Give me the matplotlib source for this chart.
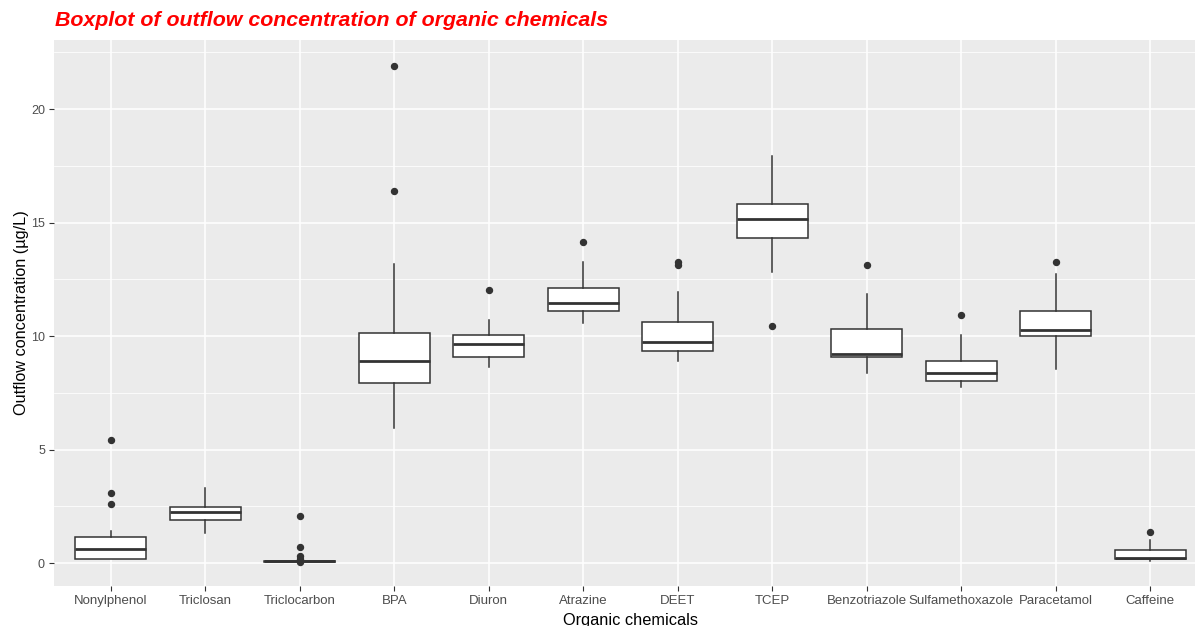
import matplotlib
matplotlib.use("Agg")
import matplotlib.pyplot as plt
from matplotlib.ticker import MultipleLocator

chemicals = ["Nonylphenol", "Triclosan", "Triclocarbon", "BPA", "Diuron", "Atrazine",
             "DEET", "TCEP", "Benzotriazole", "Sulfamethoxazole", "Paracetamol", "Caffeine"]
whisker_low = [0.2, 1.31, 0.04, 5.93, 8.65, 10.56, 8.9, 12.83, 8.36, 7.74, 8.53, 0.1]
q1 = [0.2, 1.91, 0.04, 7.94, 9.06, 11.09, 9.35, 14.3, 9.06, 8.03, 9.99, 0.18]
median = [0.63, 2.23, 0.07, 8.9, 9.63, 11.47, 9.72, 15.15, 9.21, 8.36, 10.26, 0.24]
q3 = [1.13, 2.45, 0.1, 10.13, 10.03, 12.13, 10.62, 15.81, 10.32, 8.91, 11.1, 0.56]
whisker_high = [1.4, 3.29, 0.1, 13.16, 10.72, 13.25, 11.94, 17.92, 11.85, 10.04, 12.72, 1.0]
outliers = [[5.42, 3.08, 2.6], [], [2.07, 0.7, 0.32, 0.2, 0.03], [21.9, 16.4], [12.03],
            [14.13], [13.25, 13.15], [10.43], [13.14], [10.91], [13.25], [1.38]]

plt.rcParams['font.family'] = ['Liberation Sans', 'DejaVu Sans']

fig = plt.figure(figsize=(11.95, 6.26), dpi=100)
ax = fig.add_axes([54 / 1195, 40 / 626, (1207 - 54) / 1195, (586 - 40) / 626])
ax.set_facecolor('#EBEBEB')

stats = []
for i, name in enumerate(chemicals):
    stats.append(dict(label=name, whislo=whisker_low[i], q1=q1[i], med=median[i],
                      q3=q3[i], whishi=whisker_high[i], fliers=outliers[i]))

positions = list(range(1, len(chemicals) + 1))
ax.bxp(stats, positions=positions, widths=0.75, patch_artist=True, showcaps=False,
       boxprops=dict(facecolor='white', edgecolor='#333333', linewidth=1.1),
       medianprops=dict(color='#333333', linewidth=2.0),
       whiskerprops=dict(color='#333333', linewidth=1.1),
       flierprops=dict(marker='o', markerfacecolor='#333333', markeredgecolor='#333333',
                       markersize=4.3, linestyle='none'),
       zorder=3)

ax.set_xlim(0.4, 12.6)
ax.set_ylim(-1.01, 23.04)
ax.yaxis.set_major_locator(MultipleLocator(5))
ax.yaxis.set_minor_locator(MultipleLocator(2.5))
ax.set_xticks(positions)
ax.set_xticklabels(chemicals)

ax.grid(which='major', color='white', linewidth=1.1, zorder=0)
ax.grid(which='minor', axis='y', color='white', linewidth=0.55, zorder=0)
ax.set_axisbelow(True)
for s in ax.spines.values():
    s.set_visible(False)

ax.tick_params(axis='both', which='major', length=3.5, width=0.8, color='#333333',
               labelcolor='#4D4D4D', labelsize=9.5, pad=3)
ax.tick_params(axis='y', which='major', labelsize=9)
ax.tick_params(axis='both', which='minor', length=0)

ax.set_xlabel('Organic chemicals', fontsize=11.8, color='black', labelpad=4)
ax.set_ylabel('Outflow concentration (µg/L)', fontsize=11.7, color='black', labelpad=1.2)

fig.text(55 / 1195, 1 - 21 / 626, 'Boxplot of outflow concentration of organic chemicals',
         color='red', fontsize=15.4, fontweight='bold', fontstyle='italic',
         ha='left', va='center')

fig.savefig('out.png', dpi=100)
